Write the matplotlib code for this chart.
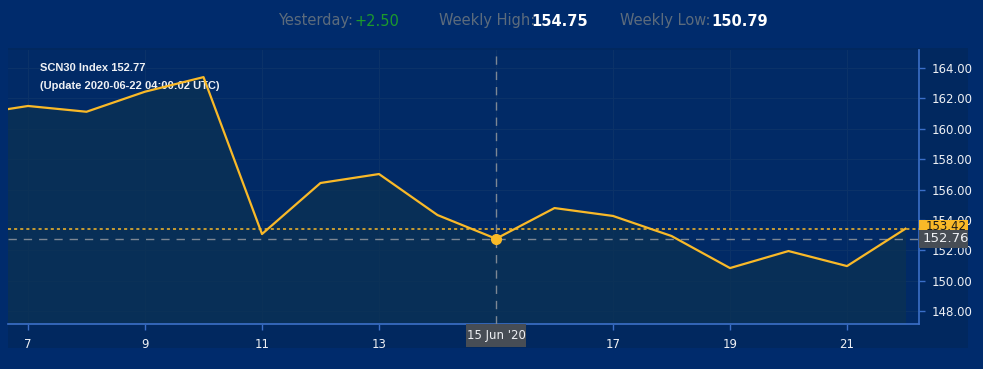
import matplotlib
matplotlib.use("Agg")
import matplotlib.pyplot as plt
from matplotlib.patches import Rectangle
from matplotlib.transforms import blended_transform_factory

plt.rcParams['font.family'] = ['Liberation Sans Narrow', 'DejaVu Sans']

# data (June 2020, daily closes)
days = [6, 7, 8, 9, 10, 11, 12, 13, 14, 15, 16, 17, 18, 19, 20, 21, 22]
values = [160.90, 161.50, 161.12, 162.44, 163.40, 153.07, 156.43, 157.02,
          154.32, 152.76, 154.78, 154.26, 152.94, 150.83, 151.95, 150.96, 153.42]
x_ticks = [7, 9, 11, 13, 17, 19, 21]
y_ticks = [148, 150, 152, 154, 156, 158, 160, 162, 164]
cross_day = 15
cross_label = "15 Jun '20"
cross_value = 152.76
last_value = 153.42

BG = '#002b6c'
PANEL = '#01285f'
GRID = '#0b3268'
SPINE = '#3b6fc8'
LINE = '#f9b928'
FILL = '#0b3152'
TXT = '#eef0f4'
GREY = '#5c6b7c'
BOX = '#474d55'

W, H = 983, 369
fig = plt.figure(figsize=(W / 100, H / 100), dpi=100, facecolor=BG)

# darker panel behind the chart
panel = fig.add_axes([8 / W, (H - 348) / H, 960 / W, 300 / H])
panel.set_facecolor(PANEL)
panel.set_xticks([])
panel.set_yticks([])
for s in panel.spines.values():
    s.set_visible(False)
panel.set_zorder(0)

ax = fig.add_axes([8 / W, (H - 324) / H, 911 / W, 274 / H])
ax.set_zorder(2)
ax.set_facecolor('#012a66')
ax.set_xlim(6.658, 22.231)
ax.set_ylim(147.147, 165.185)

ax.fill_between(days, values, 140, color=FILL, alpha=0.75, zorder=1, linewidth=0)
ax.plot(days, values, color=LINE, lw=1.6, zorder=4)

# ticks and grid
ax.set_xticks(x_ticks + [cross_day])
ax.set_xticklabels([str(d) for d in x_ticks] + [''])
ax.set_yticks(y_ticks)
ax.set_yticklabels([f'{v:.2f}' for v in y_ticks])
ax.grid(True, color=GRID, lw=0.8, zorder=0)
ax.set_axisbelow(True)

ax.yaxis.tick_right()
for s in ['top', 'left']:
    ax.spines[s].set_visible(False)
for s in ['right', 'bottom']:
    ax.spines[s].set_color(SPINE)
    ax.spines[s].set_linewidth(1.2)
ax.tick_params(axis='both', colors=SPINE, length=4, width=1, direction='out',
               labelcolor=TXT, labelsize=8.5)
ax.tick_params(axis='x', pad=6)
ax.tick_params(axis='y', pad=5)

# last value line and crosshair
ax.axhline(last_value, color=LINE, lw=1.1, ls=(0, (2, 2)), zorder=3)
ax.axhline(cross_value, color='#7d8794', lw=1, ls=(0, (6, 5)), zorder=3)
ax.axvline(cross_day, color='#7d8794', lw=1, ls=(0, (6, 5)), zorder=3)
ax.plot([cross_day], [cross_value], 'o', color=LINE, ms=7, zorder=5)

# value boxes on the price axis
ppu = 274 / (165.185 - 147.147)  # pixels per unit
bw = 49 / 911
ty = blended_transform_factory(ax.transAxes, ax.transData)
ax.add_patch(Rectangle((1.0, last_value - 8.5 / ppu), bw, 17 / ppu, transform=ty,
                       facecolor=LINE, edgecolor='none', clip_on=False, zorder=6))
ax.text(1.0 + 27 / 911, last_value + 2 / ppu, f'{last_value:.2f}', transform=ty,
        ha='center', va='center', fontsize=8.5, color='#1a1a1a', zorder=7,
        clip_on=False)
ax.add_patch(Rectangle((1.0, cross_value - 9 / ppu), bw, 18 / ppu, transform=ty,
                       facecolor=BOX, edgecolor='none', clip_on=False, zorder=8))
ax.text(1.0 + 27 / 911, cross_value, f'{cross_value:.2f}', transform=ty,
        ha='center', va='center', fontsize=9.5, color=TXT, zorder=9,
        clip_on=False)

# date box on the time axis
tx = blended_transform_factory(ax.transData, ax.transAxes)
dw = 60 / 58.5
ax.add_patch(Rectangle((cross_day - dw / 2, -23 / 274), dw, 23 / 274, transform=tx,
                       facecolor=BOX, edgecolor='none', clip_on=False, zorder=8))
ax.text(cross_day, -12 / 274, cross_label, transform=tx, ha='center', va='center',
        fontsize=8.5, color=TXT, zorder=9, clip_on=False)

# title inside chart
ax.text(32 / 911, 1 - 18 / 274, 'SCN30 Index 152.77', transform=ax.transAxes,
        fontsize=8, color=TXT, fontweight='bold', va='center',
        family=['Liberation Sans', 'DejaVu Sans'])
ax.text(32 / 911, 1 - 36 / 274, '(Update 2020-06-22 04:00:02 UTC)', transform=ax.transAxes,
        fontsize=8, color=TXT, fontweight='bold', va='center',
        family=['Liberation Sans', 'DejaVu Sans'])

# header line
hy = 1 - 21 / H
head = [(278, 'Yesterday:', GREY, 'normal'), (354, '+2.50', '#1c9a2c', 'normal'),
        (439, 'Weekly High:', GREY, 'normal'), (531, '154.75', '#ffffff', 'bold'),
        (620, 'Weekly Low:', GREY, 'normal'), (711, '150.79', '#ffffff', 'bold')]
for px, s, c, w in head:
    fig.text(px / W, hy, s, color=c, fontweight=w, fontsize=10.5, va='center',
             family=['DejaVu Sans'])

fig.savefig('out.png', dpi=100, facecolor=BG)
